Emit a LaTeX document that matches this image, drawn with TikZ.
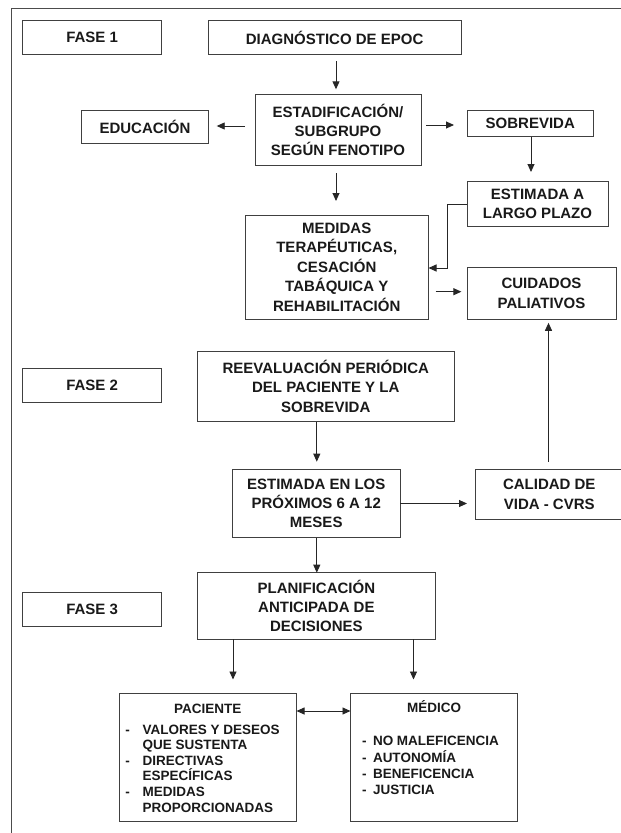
\documentclass[tikz,border=0pt]{standalone}
\usepackage{fontspec}
\setmainfont{Liberation Sans}
\usetikzlibrary{arrows.meta,calc}
\begin{document}
\begin{tikzpicture}[x=1pt,y=-1pt,
  box/.style={draw=black!75, line width=0.9pt, inner sep=0pt, outer sep=0pt, align=center,
    font=\bfseries\fontsize{15}{19.4}\selectfont, text=black!90},
  arr/.style={draw=black!85, line width=0.9pt, -{Triangle[length=8pt,width=7pt]}},
  dbl/.style={draw=black!85, line width=0.9pt, {Triangle[length=8pt,width=7pt]}-{Triangle[length=8pt,width=7pt]}},
  frame/.style={draw=black!70, line width=0.8pt},
  lbl/.style={inner sep=0pt, outer sep=0pt, anchor=base west,
    font=\bfseries\fontsize{13.5}{15.6}\selectfont, text=black!90}]
\useasboundingbox (0,0) rectangle (621,833);

% outer frame (only top and left visible)
\draw[frame] (640,8.3) -- (11,8.3) -- (11,850);

% phase 1
\node[box, minimum width=139.2pt, minimum height=33.8pt] (fase1) at (92.1,37.6) {FASE 1};
\node[box, minimum width=252.7pt, minimum height=33.8pt] (diag) at (334.65,37.6) {DIAGNÓSTICO DE EPOC};
\node[box, minimum width=166pt, minimum height=71.2pt] (estadif) at (338,129.9) {ESTADIFICACIÓN/\\SUBGRUPO\\SEGÚN FENOTIPO};
\node[box, minimum width=126.6pt, minimum height=33.3pt] (educ) at (145,126.65) {EDUCACIÓN};
\node[box, minimum width=125.5pt, minimum height=26.7pt] (sobrev) at (530.25,123.35) {SOBREVIDA};
\node[box, minimum width=141pt, minimum height=45.7pt] (estlargo) at (537.5,203.85) {ESTIMADA A\\LARGO PLAZO};
\node[box, minimum width=183.5pt, minimum height=104.3pt] (medidas) at (336.75,267.15) {MEDIDAS\\TERAPÉUTICAS,\\CESACIÓN\\TABÁQUICA Y\\REHABILITACIÓN};
\node[box, minimum width=149pt, minimum height=51.8pt] (cuidados) at (541.5,293.4) {CUIDADOS\\PALIATIVOS};

% phase 2
\node[box, minimum width=139.2pt, minimum height=34.4pt] (fase2) at (92.1,385.5) {FASE 2};
\node[box, minimum width=257.5pt, minimum height=70.7pt] (reeval) at (325.75,386.35) {REEVALUACIÓN PERIÓDICA\\DEL PACIENTE Y LA\\SOBREVIDA};
\node[box, minimum width=167.5pt, minimum height=68.2pt] (est612) at (316.25,503.4) {ESTIMADA EN LOS\\PRÓXIMOS 6 A 12\\MESES};
\node[box, minimum width=147.5pt, minimum height=50pt] (calidad) at (549.25,494.3) {CALIDAD DE\\VIDA - CVRS};

% phase 3
\node[box, minimum width=139.2pt, minimum height=34pt] (fase3) at (92.1,609.7) {FASE 3};
\node[box, minimum width=238.4pt, minimum height=66.3pt] (planif) at (316.4,605.85) {PLANIFICACIÓN\\ANTICIPADA DE\\DECISIONES};
\node[box, minimum width=177.5pt, minimum height=127.5pt] (paciente) at (207.75,757.25) {};
\node[box, minimum width=167.1pt, minimum height=127.5pt] (medico) at (434.05,757.25) {};

% paciente contents
\node[lbl, anchor=base] (pactit) at (207.75,713.1) {PACIENTE};
\node[lbl] (pd1) at (125.3,734.1) {-};
\node[lbl] (p1a) at (142.6,734.1) {VALORES Y DESEOS};
\node[lbl] (p1b) at (142.6,749.7) {QUE SUSTENTA};
\node[lbl] (pd2) at (125.3,765.3) {-};
\node[lbl] (p2a) at (142.6,765.3) {DIRECTIVAS};
\node[lbl] (p2b) at (142.6,780.9) {ESPECÍFICAS};
\node[lbl] (pd3) at (125.3,796.5) {-};
\node[lbl] (p3a) at (142.6,796.5) {MEDIDAS};
\node[lbl] (p3b) at (142.6,812.1) {PROPORCIONADAS};

% medico contents
\node[lbl, anchor=base] (medtit) at (434,712.8) {MÉDICO};
\node[lbl] (md1) at (362,745.8) {-};
\node[lbl] (m1) at (373,745.8) {NO MALEFICENCIA};
\node[lbl] (md2) at (362,762.1) {-};
\node[lbl] (m2) at (373,762.1) {AUTONOMÍA};
\node[lbl] (md3) at (362,778.1) {-};
\node[lbl] (m3) at (373,778.1) {BENEFICENCIA};
\node[lbl] (md4) at (362,794.1) {-};
\node[lbl] (m4) at (373,794.1) {JUSTICIA};

% connectors
\draw[arr, shorten <=6.5pt, shorten >=5pt] (diag.south -| 336,0) -- (estadif.north -| 336,0);
\draw[arr, shorten <=10pt, shorten >=8.4pt] (estadif.west |- 0,126) -- (educ.east |- 0,126);
\draw[arr, shorten <=5pt, shorten >=13.5pt] (estadif.east |- 0,125) -- (sobrev.west |- 0,125);
\draw[arr, shorten >=9pt] (sobrev.south -| 531,0) -- (estlargo.north -| 531,0);
\draw[arr, shorten <=7.5pt, shorten >=14pt] (estadif.south -| 336,0) -- (medidas.north -| 336,0);
\draw[arr] (estlargo.west |- 0,204) -- ++(-19.5,0) |- (medidas.east |- 0,268);
\draw[arr, shorten <=7pt, shorten >=5.6pt] (medidas.east |- 0,291.7) -- (cuidados.west |- 0,291.7);
\draw[arr, shorten <=7.6pt, shorten >=3.5pt] (calidad.north -| 548.5,0) -- (cuidados.south -| 548.5,0);
\draw[arr, shorten >=7.6pt] (reeval.south -| 316.8,0) -- (est612.north -| 316.8,0);
\draw[arr, shorten >=8.5pt] (est612.east |- 0,503.5) -- (calidad.west |- 0,503.5);
\draw[arr] (est612.south -| 316.8,0) -- (planif.north -| 316.8,0);
\draw[arr, shorten >=14pt] (planif.south -| 233,0) -- (paciente.north -| 233,0);
\draw[arr, shorten >=14pt] (planif.south -| 413.5,0) -- (medico.north -| 413.5,0);
\draw[dbl] (paciente.east |- 0,711) -- (medico.west |- 0,711);
\end{tikzpicture}
\end{document}
